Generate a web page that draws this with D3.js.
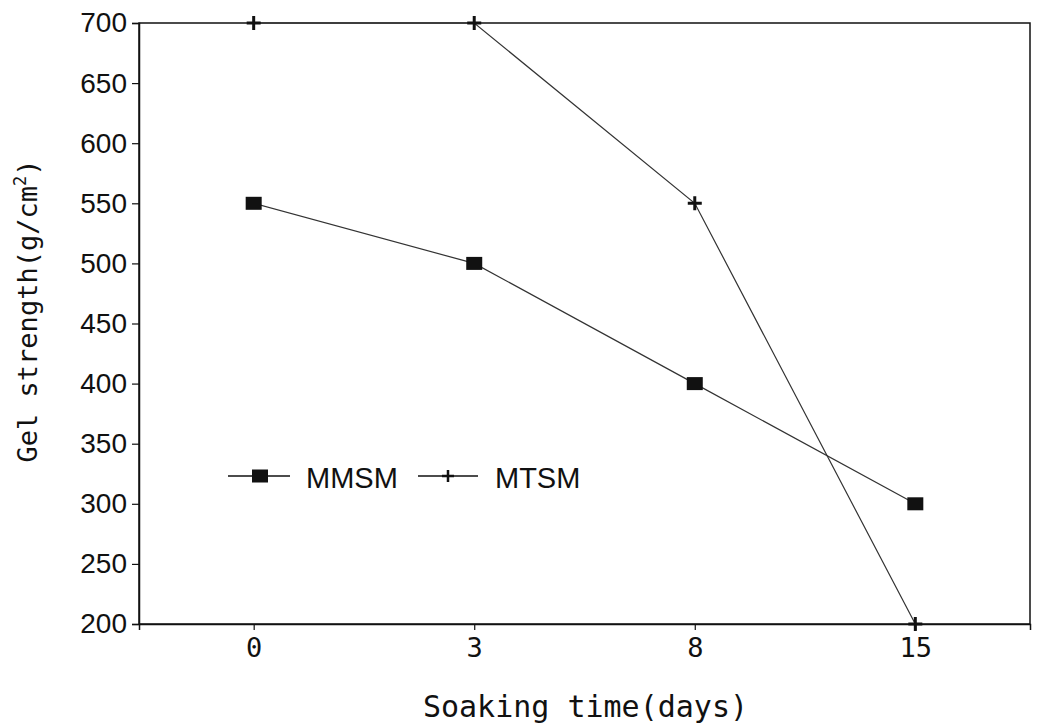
<!DOCTYPE html>
<html>
<head>
<meta charset="utf-8">
<script src="https://cdn.jsdelivr.net/npm/d3@7"></script>
<style>
  html, body { margin: 0; padding: 0; background: #fff; }
  svg { display: block; }
</style>
</head>
<body>
<svg id="chart" width="1037" height="727"></svg>
<script>
// Soaking time categories (days)
const days = ["0", "3", "8", "15"];
// Gel strength (g/cm²) per soaking time
const mmsm = [550, 500, 400, 300];
const mtsm = [700, 700, 550, 200];
const yTicks = [200, 250, 300, 350, 400, 450, 500, 550, 600, 650, 700];
const seriesNames = ["MMSM", "MTSM"];

const W = 1037, H = 727;
const plot = { left: 139, right: 1030, top: 23, bottom: 624 };
const svg = d3.select("#chart");

const x = d3.scalePoint().domain(days).range([plot.left, plot.right]).padding(0.52);
const y = d3.scaleLinear().domain([200, 700]).range([plot.bottom, plot.top]);

const ink = "#111";
const sans = "'Liberation Sans', Arial, Helvetica, sans-serif";
const mono = "'DejaVu Sans Mono', monospace";

// Frame
svg.append("rect")
  .attr("x", plot.left).attr("y", plot.top)
  .attr("width", plot.right - plot.left).attr("height", plot.bottom - plot.top)
  .attr("fill", "none").attr("stroke", ink).attr("stroke-width", 1.5);

// Y axis
const yAxis = svg.append("g")
  .attr("transform", `translate(${plot.left},0)`)
  .call(d3.axisLeft(y).tickValues(yTicks).tickSize(7).tickPadding(5).tickFormat(d3.format("d")));
yAxis.select(".domain").attr("stroke", ink).attr("stroke-width", 1.5);
yAxis.selectAll(".tick line").attr("stroke", ink).attr("stroke-width", 1.2);
yAxis.selectAll(".tick text")
  .attr("fill", ink).attr("font-family", sans).attr("font-size", 28);

// X axis
const xAxis = svg.append("g")
  .attr("transform", `translate(0,${plot.bottom})`)
  .call(d3.axisBottom(x).tickSize(6).tickPadding(8));
xAxis.select(".domain").attr("stroke", ink).attr("stroke-width", 1.5);
xAxis.selectAll(".tick line").attr("stroke", ink).attr("stroke-width", 1.2);
xAxis.selectAll(".tick text")
  .attr("fill", ink).attr("font-family", mono).attr("font-size", 27);

// Axis titles
svg.append("text")
  .attr("x", (plot.left + plot.right) / 2 + 1).attr("y", 717)
  .attr("text-anchor", "middle")
  .attr("font-family", mono).attr("font-size", 30).attr("fill", ink)
  .text("Soaking time(days)");

const yt = svg.append("text")
  .attr("transform", "translate(37,311) rotate(-90)")
  .attr("text-anchor", "middle")
  .attr("font-family", mono).attr("font-size", 27).attr("fill", ink);
yt.append("tspan").text("Gel strength(g/cm");
yt.append("tspan").attr("dy", -11).attr("font-size", 17).text("2");
yt.append("tspan").attr("dy", 11).text(")");

// Series lines
const line = d3.line().x((d, i) => x(days[i])).y(d => y(d));
[mmsm, mtsm].forEach(vals => {
  svg.append("path")
    .datum(vals)
    .attr("d", line)
    .attr("fill", "none")
    .attr("stroke", "#333")
    .attr("stroke-width", 1.2);
});

// Markers
const sqW = 16, sqH = 13;
svg.selectAll("rect.mmsm")
  .data(mmsm)
  .join("rect")
  .attr("class", "mmsm")
  .attr("x", (d, i) => x(days[i]) - sqW / 2)
  .attr("y", d => y(d) - sqH / 2)
  .attr("width", sqW).attr("height", sqH)
  .attr("fill", ink);

const plusPath = s => `M${-s},0H${s}M0,${-s}V${s}`;
svg.selectAll("path.mtsm")
  .data(mtsm)
  .join("path")
  .attr("class", "mtsm")
  .attr("transform", (d, i) => `translate(${x(days[i])},${y(d)})`)
  .attr("d", plusPath(7))
  .attr("stroke", ink).attr("stroke-width", 3).attr("fill", "none");

// Legend
const legendY = 476;
const legend = svg.append("g");
// MMSM entry
legend.append("line").attr("x1", 228).attr("x2", 290).attr("y1", legendY).attr("y2", legendY)
  .attr("stroke", ink).attr("stroke-width", 1.5);
legend.append("rect").attr("x", 260 - sqW / 2).attr("y", legendY - sqH / 2)
  .attr("width", sqW).attr("height", sqH).attr("fill", ink);
legend.append("text").attr("x", 306).attr("y", legendY + 12)
  .attr("font-family", sans).attr("font-size", 29).attr("fill", ink).text(seriesNames[0]);
// MTSM entry
legend.append("line").attr("x1", 418).attr("x2", 478).attr("y1", legendY).attr("y2", legendY)
  .attr("stroke", ink).attr("stroke-width", 1.5);
legend.append("path").attr("transform", `translate(448,${legendY})`)
  .attr("d", plusPath(6)).attr("stroke", ink).attr("stroke-width", 2.5);
legend.append("text").attr("x", 495).attr("y", legendY + 12)
  .attr("font-family", sans).attr("font-size", 29).attr("fill", ink).text(seriesNames[1]);
</script>
</body>
</html>
